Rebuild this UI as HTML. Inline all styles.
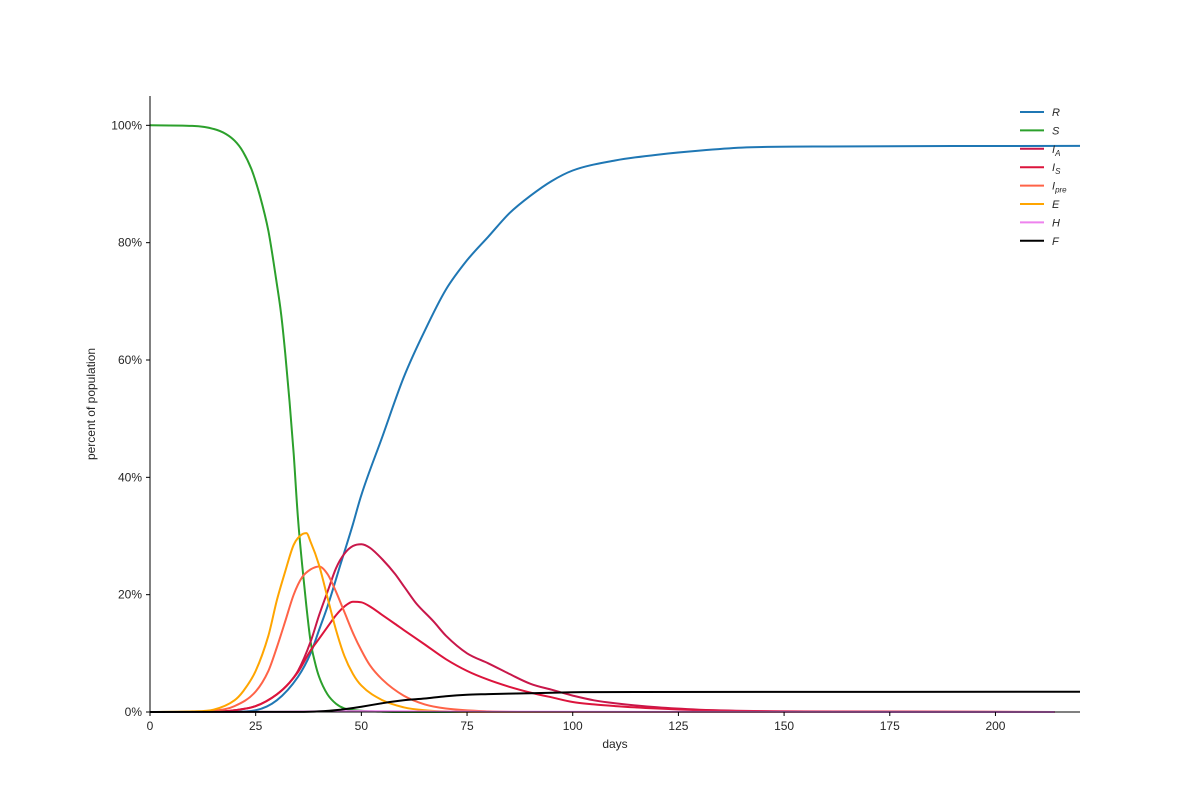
<!DOCTYPE html>
<html><head><meta charset="utf-8"><style>
body{margin:0;background:#fff;font-family:"Liberation Sans",sans-serif}
svg text{font-family:"Liberation Sans",sans-serif;fill:#262626}
</style></head><body>
<svg id="c" width="1200" height="800"></svg>
<script>
const xTicks=[0,25,50,75,100,125,150,175,200];
const yTicks=[0,20,40,60,80,100];
const dR=[0,20,25,30,35,38,40,42,45,48,50,55,60,65,70,75,80,85,90,95,100,110,120,130,140,160,220];
const vR=[0,0.05,0.3,2,6,10,14,18,25,32,37,47,57,65,72,77,81,85,88,90.5,92.3,94,95,95.7,96.2,96.4,96.5];
const dS=[0,10,15,18,20,22,24,26,28,30,31,32,33,34,35,36,37,38,39,40,42,44,46,50,55,60,214];
const vS=[100,99.9,99.4,98.5,97.4,95.5,92.5,88,82,73,68,61,53,44,33,25,18,12,8.5,6,3,1.4,0.6,0.2,0.05,0,0];
const dIA=[0,15,20,25,30,33,35,38,40,42,44,46,48,50,52,55,58,60,63,67,70,75,80,85,90,95,100,105,110,120,130,150,180,214];
const vIA=[0,0.05,0.3,1,3,5,7,12,16.5,20.5,24.5,27,28.3,28.6,28,26,23.5,21.5,18.5,15.5,13,10,8.3,6.5,4.8,3.8,2.8,2,1.5,0.8,0.4,0.1,0.03,0];
const dIS=[0,15,20,25,30,33,35,38,40,42,44,46,48,50,52,55,58,60,65,70,75,80,85,90,95,100,105,110,120,130,150,214];
const vIS=[0,0.05,0.3,1,3,5,6.8,10.5,12.5,14.5,16.5,18,18.8,18.7,18,16.5,15,14,11.5,9,7,5.5,4.3,3.3,2.5,1.7,1.3,1,0.6,0.3,0.1,0];
const dIp=[0,10,15,20,25,28,30,32,34,36,38,40,42,44,46,48,50,52,55,60,65,70,80,90,214];
const vIp=[0,0.05,0.2,1,3.5,7,11,15.5,20,23,24.3,24.8,23.5,20.5,17,13.5,10.5,8,5.5,2.8,1.3,0.6,0.1,0,0];
const dE=[0,10,15,20,22,25,28,30,32,34,36,37,38,40,42,44,46,48,50,55,60,65,70,80,214];
const vE=[0,0.1,0.4,2,3.5,7,13,19,24,28.5,30.3,30.5,29,25,19.5,14,9.5,6.5,4.5,2,0.8,0.3,0.1,0,0];
const dH=[0,30,40,50,60,80,214];
const vH=[0,0.02,0.1,0.15,0.1,0.03,0];
const dF=[0,35,40,45,50,55,60,65,70,75,80,90,100,105,220];
const vF=[0,0.02,0.1,0.4,0.9,1.5,2,2.3,2.7,2.95,3.05,3.2,3.35,3.4,3.45];
const series=[["R",dR,vR,"#1f77b4"],["S",dS,vS,"#2ca02c"],["IA",dIA,vIA,"#c8174a"],["IS",dIS,vIS,"#dc143c"],["Ipre",dIp,vIp,"#ff6347"],["E",dE,vE,"#ffa500"],["H",dH,vH,"#ee82ee"],["F",dF,vF,"#000000"]];
const X0=150,X1=1080,Y0=712,YT=96;
const xs=d=>X0+d*(X1-X0)/220;
const ys=v=>Y0-v*(Y0-YT)/105;
const svg=document.getElementById('c');
const NS='http://www.w3.org/2000/svg';
function mk(t,a,p){const e=document.createElementNS(NS,t);for(const k in a)e.setAttribute(k,a[k]);(p||svg).appendChild(e);return e;}
function monoPath(px,py){
  const n=px.length,dx=[],m=[],t=[];
  for(let i=0;i<n-1;i++){dx[i]=px[i+1]-px[i];m[i]=(py[i+1]-py[i])/dx[i];}
  t[0]=m[0];t[n-1]=m[n-2];
  for(let i=1;i<n-1;i++){t[i]=(m[i-1]*m[i]<=0)?0:(m[i-1]+m[i])/2;}
  for(let i=0;i<n-1;i++){
    if(m[i]===0){t[i]=0;t[i+1]=0;continue;}
    const a=t[i]/m[i],b=t[i+1]/m[i],h=a*a+b*b;
    if(h>9){const s=3/Math.sqrt(h);t[i]=s*a*m[i];t[i+1]=s*b*m[i];}
  }
  let d=`M${px[0].toFixed(1)},${py[0].toFixed(1)}`;
  for(let i=0;i<n-1;i++){
    const h=dx[i]/3;
    d+=`C${(px[i]+h).toFixed(1)},${(py[i]+t[i]*h).toFixed(1)} ${(px[i+1]-h).toFixed(1)},${(py[i+1]-t[i+1]*h).toFixed(1)} ${px[i+1].toFixed(1)},${py[i+1].toFixed(1)}`;
  }
  return d;
}
for(const s of series){
  const p=mk('path',{d:monoPath(s[1].map(xs),s[2].map(ys)),fill:'none',stroke:s[3],'stroke-width':2,'stroke-linejoin':'round'});
  
  
}
const ax=mk('path',{d:`M${X0},${YT}V${Y0}H${X1}`,stroke:'#000',fill:'none','stroke-width':1});


for(const t of xTicks){
  mk('line',{x1:xs(t),x2:xs(t),y1:Y0,y2:Y0+4,stroke:'#000'});
  const tx=mk('text',{x:xs(t),y:Y0+18,'text-anchor':'middle','font-size':12});
  tx.textContent=t;
  
  
}
for(const t of yTicks){
  mk('line',{x1:X0-4,x2:X0,y1:ys(t),y2:ys(t),stroke:'#000'});
  const tx=mk('text',{x:X0-8,y:ys(t)+4,'text-anchor':'end','font-size':12});
  tx.textContent=t+'%';
  
  
}
const xl=mk('text',{x:615,y:748,'text-anchor':'middle','font-size':12});xl.textContent='days';


const yl=mk('text',{x:95,y:404,'text-anchor':'middle','font-size':12,transform:'rotate(-90 95 404)'});yl.textContent='percent of population';


const labels=[["R",""],["S",""],["I","A"],["I","S"],["I","pre"],["E",""],["H",""],["F",""]];
series.forEach((s,i)=>{
  const y=112+i*18.4;
  const g=mk('g',{});
  
  
  mk('line',{x1:1020,x2:1044,y1:y,y2:y,stroke:s[3],'stroke-width':2},g);
  const t=mk('text',{x:1052,y:y+4,'font-size':11,'font-style':'italic'},g);
  t.textContent=labels[i][0];
  if(labels[i][1]){const sb=mk('tspan',{'font-size':8,dy:3},t);sb.textContent=labels[i][1];}
});
</script>
</body></html>
